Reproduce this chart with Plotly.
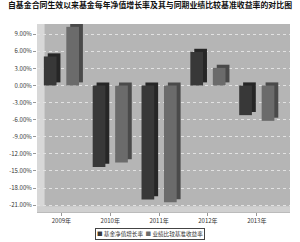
import plotly.graph_objects as go

categories = ["2009年", "2010年", "2011年", "2012年", "2013年"]
fund_growth = [5.1, -14.3, -20.0, 5.9, -5.2]
benchmark_return = [10.3, -13.5, -20.5, 3.1, -6.2]
tick_values = [9, 6, 3, 0, -3, -6, -9, -12, -15, -18, -21]
tick_labels = ["9.00%", "6.00%", "3.00%", "0.00%", "-3.00%", "-6.00%", "-9.00%",
               "-12.00%", "-15.00%", "-18.00%", "-21.00%"]
series_names = ["基金净值增长率", "业绩比较基准收益率"]
title_text = "自基金合同生效以来基金每年净值增长率及其与同期业绩比较基准收益率的对比图"

FONT = "Noto Sans CJK SC"
BAR_W = 0.26
DX = 0.08
DY = 0.55
FACE = ["#383838", "#6b6b6b"]
SIDE = ["#262626", "#4a4a4a"]
OFFS = [-0.36, 0.10]

fig = go.Figure()
series = [fund_growth, benchmark_return]
for i, vals in enumerate(series):
    fig.add_trace(go.Bar(
        x=categories, y=vals, base=[DY] * len(vals), offset=OFFS[i] + DX, width=BAR_W,
        marker=dict(color=SIDE[i], line=dict(width=0)), showlegend=False, hoverinfo="skip",
    ))
for i, vals in enumerate(series):
    fig.add_trace(go.Bar(
        x=categories, y=vals, name=series_names[i], offset=OFFS[i], width=BAR_W,
        marker=dict(color=FACE[i], line=dict(width=0)), showlegend=False,
    ))

legend_text = "  ".join(
    f"<span style='color:{FACE[i]}'>■</span> {series_names[i]}" for i in range(2)
)

fig.update_layout(
    width=300, height=242,
    margin=dict(l=37, r=10, t=24, b=30),
    paper_bgcolor="white",
    plot_bgcolor="#b5b5b5",
    barmode="overlay",
    showlegend=False,
    title=dict(text=f"<b>{title_text}</b>",
               x=0.5, xanchor="center", y=0.99, yanchor="top",
               font=dict(family=FONT, size=7.9, color="#111")),
    font=dict(family=FONT, size=6, color="#333"),
    annotations=[
        dict(text=legend_text, xref="paper", yref="paper", x=0.447, y=-0.085,
             xanchor="center", yanchor="top", showarrow=False,
             font=dict(family=FONT, size=5.6, color="#333"),
             bordercolor="#444", borderwidth=1, borderpad=1, bgcolor="white"),
    ],
    shapes=[
        dict(type="rect", xref="paper", yref="paper", x0=0, x1=0.03, y0=0, y1=1,
             fillcolor="#d8d8d8", line=dict(width=0), layer="below"),
        dict(type="rect", xref="paper", yref="paper", x0=0, x1=1, y0=0, y1=0.03,
             fillcolor="#d0d0d0", line=dict(width=0), layer="below"),
    ],
)
fig.update_xaxes(range=[-0.5, 4.68], showgrid=False, ticks="outside", ticklen=3,
                 tickcolor="#999", showline=True, linecolor="#bbb", tickangle=0,
                 tickfont=dict(size=6, color="#333"))
fig.update_yaxes(range=[-22.2, 10.8], tickvals=tick_values, ticktext=tick_labels,
                 showgrid=True, gridcolor="#e2e2e2", griddash="dot", gridwidth=1,
                 zeroline=False, ticks="outside", ticklen=3, tickcolor="#999",
                 tickfont=dict(size=6, color="#333"))

fig.write_html("out.html")
